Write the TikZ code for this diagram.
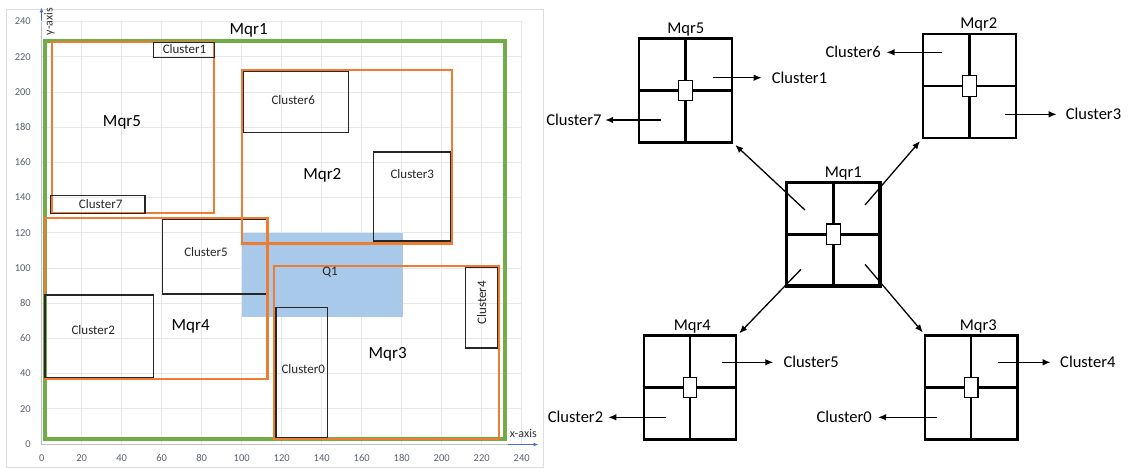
\documentclass[tikz,border=0pt]{standalone}
\usepackage{fontspec}
\setmainfont{Carlito}
\usetikzlibrary{arrows.meta,calc}
\definecolor{mgreen}{HTML}{70AD47}
\definecolor{morange}{HTML}{ED7D31}
\definecolor{qblue}{HTML}{A8C9EA}
\definecolor{gridc}{HTML}{E6E8EC}
\definecolor{tickc}{HTML}{5A6170}
\definecolor{axblue}{HTML}{4472C4}
\definecolor{frame}{HTML}{DADDE2}
\tikzset{
  gridline/.style={draw=gridc, line width=0.8pt},
  ticklbl/.style={text=tickc, font=\fontsize{10.5}{12}\selectfont, inner sep=0pt},
  axlbl/.style={text=black!80, font=\fontsize{12}{14}\selectfont, inner sep=0pt},
  mqrbox/.style={draw=morange, line width=2.4pt},
  rootbox/.style={draw=mgreen, line width=4pt},
  clbox/.style={draw=black!85, line width=1.5pt},
  cltext/.style={font=\fontsize{13}{15}\selectfont, text=black!85, inner sep=0pt},
  mqrtext/.style={font=\fontsize{17}{19}\selectfont, inner sep=0pt},
  axarrow/.style={draw=axblue, line width=1pt, -{Latex[length=5pt,width=4pt]}},
  qnode/.style={draw, line width=2.2pt, minimum width=92.5pt, minimum height=104pt, inner sep=0pt},
  qline/.style={line width=2.2pt},
  qcentre/.style={draw, fill=white, line width=1.3pt, minimum width=13.5pt, minimum height=20.5pt, inner sep=0pt},
  tlbl/.style={font=\fontsize{16.5}{18}\selectfont, inner sep=0pt},
  arr/.style={line width=1.3pt, -{Latex[length=8pt,width=6.5pt]}},
}
\begin{document}
\begin{tikzpicture}[x=1pt,y=-1pt]
\useasboundingbox (0,0) rectangle (1128,468);
\fill[white] (0,0) rectangle (1128,468);
% ---------------- chart ----------------
\draw[draw=frame, line width=0.8pt] (6.7,9.3) rectangle (543.3,467);
\foreach \i [evaluate=\i as \v using int(20*\i)] in {0,...,12}{
  \draw[gridline] ({41.7+40*\i},21.6) -- ({41.7+40*\i},444);
  \draw[gridline] (41.7,{444-35.2*\i}) -- (521.7,{444-35.2*\i});
  \node[ticklbl, anchor=east] at (31,{444-35.2*\i}) {\v};
  \node[ticklbl] at ({41.7+40*\i},458.3) {\v};
}
\draw[draw=black!25, line width=0.8pt] (41.7,21.6) -- (41.7,444) -- (521.7,444);
% query region
\fill[qblue] (241.7,233.3) rectangle (403.3,316.7);
% Mqr1
\draw[rootbox] (45,40.7) rectangle (505,439);
% clusters lying under the quadrant frames
\draw[clbox] (243.7,71) rectangle (348.7,132.7);
\draw[clbox] (162.7,219.3) rectangle (267.3,294);
% Mqr5, Mqr2, Mqr4, Mqr3
\draw[mqrbox] (51.7,42.3) rectangle (213.7,213.3);
\draw[mqrbox] (241.7,70) rectangle (451.7,243.3);
\draw[mqrbox] (45,218.3) rectangle (267.5,378.7);
\draw[mqrbox] (274,265.7) rectangle (499,439);
% other clusters
\draw[clbox] (153.7,42.3) rectangle (214.3,57.3);
\draw[clbox] (50.7,195.7) rectangle (145,213.3);
\draw[clbox] (373.3,152) rectangle (450.3,241);
\draw[clbox] (45,295) rectangle (153.3,377.3);
\draw[clbox] (276,307.3) rectangle (327.7,437.3);
\draw[clbox] (465.7,267.3) rectangle (497.7,348);
% chart texts
\node[cltext] (tc1) at (184.5,49.5) {Cluster1};
\node[cltext] (tc7) at (100.7,204) {Cluster7};
\node[cltext] (tc6) at (293.3,100) {Cluster6};
\node[cltext] (tc3) at (412.3,174) {Cluster3};
\node[cltext] (tc5) at (206,251.7) {Cluster5};
\node[cltext] (tc2) at (93.3,330) {Cluster2};
\node[cltext] (tc0) at (303.3,368.7) {Cluster0};
\node[cltext, rotate=90] (tc4) at (481.7,302.7) {Cluster4};
\node[cltext] (tq1) at (330,271.7) {Q1};
\node[mqrtext] (tm1) at (248.7,30) {Mqr1};
\node[mqrtext] (tm5) at (122,122.7) {Mqr5};
\node[mqrtext] (tm2) at (322.3,175) {Mqr2};
\node[mqrtext] (tm4) at (190.7,326.7) {Mqr4};
\node[mqrtext] (tm3) at (387.7,354.3) {Mqr3};
% axes
\coordinate (ya0) at (41.5,21);
\coordinate (ya1) at (41.5,7.5);
\draw[axarrow] (ya0) -- (ya1);
\node[axlbl, rotate=90] (ylab) at (49.5,21.5) {y-axis};
\coordinate (xa0) at (508,444.5);
\coordinate (xa1) at (538.5,444.5);
\draw[axarrow] (xa0) -- (xa1);
\node[axlbl] (xlab) at (523.3,433.3) {x-axis};
% ---------------- tree ----------------
\node[qnode] (m5) at (685.4,90.5) {};
\node[qnode] (m2) at (969.4,86) {};
\node[qnode, line width=3.4pt, minimum width=93.3pt, minimum height=103.7pt] (m1) at (833.4,234.2) {};
\node[qnode] (m4) at (689.9,387.5) {};
\node[qnode] (m3) at (971.2,387.5) {};
\foreach \m in {m5,m2,m4,m3}{
  \draw[qline] (\m.north) -- (\m.south) (\m.west) -- (\m.east);
  \node[qcentre] (\m c) at (\m) {};
}
\draw[line width=3.4pt] (m1.north) -- (m1.south) (m1.west) -- (m1.east);
\node[qcentre, minimum width=14pt, minimum height=20.7pt] (m1c) at (m1) {};
% titles
\node[tlbl] (m5t) at (685.7,29.3) {Mqr5};
\node[tlbl] (m2t) at (978.7,24) {Mqr2};
\node[tlbl] (m1t) at (843.3,174) {Mqr1};
\node[tlbl] (m4t) at (692.3,326.7) {Mqr4};
\node[tlbl] (m3t) at (978.3,326.7) {Mqr3};
% cluster labels
\node[tlbl, anchor=west] (c1) at (771.7,77.7) {Cluster1};
\node[tlbl, anchor=east] (c7) at (601.7,120) {Cluster7};
\node[tlbl, anchor=east] (c6) at (881,52.3) {Cluster6};
\node[tlbl, anchor=west] (c3) at (1065.7,114.3) {Cluster3};
\node[tlbl, anchor=west] (c5) at (783.3,362.3) {Cluster5};
\node[tlbl, anchor=east] (c2) at (603.3,417.3) {Cluster2};
\node[tlbl, anchor=west] (c4) at (1060,362.3) {Cluster4};
\node[tlbl, anchor=east] (c0) at (872,417.3) {Cluster0};
% arrow start points inside quadrants
\coordinate (s1) at (713.3,77.7);
\coordinate (s7) at (660.7,120);
\coordinate (s6) at (942.3,52.3);
\coordinate (s3) at (1005,114.3);
\coordinate (s5) at (721.7,362.3);
\coordinate (s2) at (665.7,417.3);
\coordinate (s4) at (998.3,362.3);
\coordinate (s0) at (937.3,417.3);
\draw[arr, shorten >=10pt] (s1) -- (c1.west);
\draw[arr, shorten >=3.5pt] (s7) -- (c7.east);
\draw[arr, shorten >=5.5pt] (s6) -- (c6.east);
\draw[arr, shorten >=9pt] (s3) -- (c3.west);
\draw[arr, shorten >=10pt] (s5) -- (c5.west);
\draw[arr, shorten >=5pt] (s2) -- (c2.east);
\draw[arr, shorten >=9.3pt] (s4) -- (c4.west);
\draw[arr, shorten >=6pt] (s0) -- (c0.east);
% diagonal arrows from Mqr1
\coordinate (d5) at (805,210);
\coordinate (d2) at (865,205);
\coordinate (d4) at (801,269.3);
\coordinate (d3) at (865,264.3);
\draw[arr] (d5) -- ($(m5.south east)+(2.5,1.3)$);
\draw[arr] (d2) -- ($(m2.south west)+(-2,2)$);
\draw[arr] (d4) -- ($(m4.north east)+(2,-1)$);
\draw[arr] (d3) -- ($(m3.north west)+(-1,-2)$);
\end{tikzpicture}
\end{document}
